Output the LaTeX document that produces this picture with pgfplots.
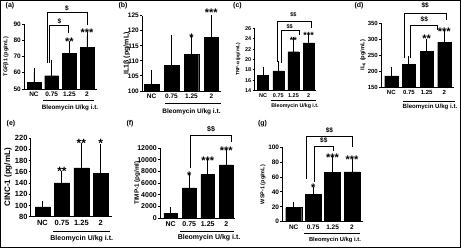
\documentclass[border=0pt]{standalone}
\usepackage{fontspec}
\setmainfont{Liberation Sans}
\usepackage{pgfplots}
\pgfplotsset{compat=1.18}
\newcommand\F[1]{\fontsize{#1}{#1}\selectfont\bfseries}
\pgfplotsset{
 prism/.style={
  scale only axis, clip mode=individual,
  axis x line*=bottom, axis y line*=left,
  axis line style={line width=0.9pt,-},
  xtick={0,1,2,3}, xticklabels={NC,0.75,1.25,2},
  xtick style={draw=none},
  ytick style={line width=0.9pt,black},
  tick align=outside, major tick length=2pt,
  /pgf/number format/assume math mode=true,
  /pgf/number format/1000 sep={},
  scaled y ticks=false,
  ybar,
  ylabel style={anchor=center},
  xlabel style={anchor=center},
  xticklabel style={inner sep=1pt},
  yticklabel style={inner sep=1pt},
 },
 bars/.style={fill=black, draw=black, line width=0.3pt,
   error bars/.cd, y dir=plus, y explicit,
   error bar style={line width=0.9pt,black},
   error mark options={line width=0.9pt,mark size=4pt,black}},
}
\tikzset{stars/.style={font=\F{11}, inner sep=0pt, yshift=-2.3pt},
 dol/.style={font=\F{6.5}, inner sep=0pt},
 br/.style={line width=0.9pt}}
\begin{document}
\begin{tikzpicture}
\useasboundingbox (0,0) rectangle (461pt,248pt);
\draw[line width=0.8pt] (0.6pt,0.6pt) rectangle (460.4pt,247.4pt);
\node[font=\F{7}] at (10pt,242pt) {(a)};
\node[font=\F{7}] at (123pt,242pt) {(b)};
\node[font=\F{7}] at (237.5pt,242pt) {(c)};
\node[font=\F{7}] at (359pt,242pt) {(d)};
\node[font=\F{7}] at (11pt,124pt) {(e)};
\node[font=\F{7}] at (130pt,124pt) {(f)};
\node[font=\F{7}] at (262.5pt,124pt) {(g)};

% (a)
\begin{axis}[prism, at={(24pt,159pt)}, anchor=south west, width=73pt, height=65pt,
 xmin=-0.566, xmax=3.566, ymin=50, ymax=90, ytick={50,60,70,80,90}, bar width=0.79,
 tick label style={font=\F{6.5}},
 ylabel={TGFβ1 (pg/mL)}, ylabel style={at={(axis description cs:-0.247,0.5)}, font=\F{5.5}},
 xlabel={Bleomycin U/kg i.t.}, xlabel style={at={(axis description cs:0.63,-0.285)}, font=\F{6.3}}]
\addplot[bars] coordinates {(0,54) +- (0,6.6) (1,58.2) +- (0,6.9) (2,72) +- (0,4.8) (3,75.5) +- (0,7.3)};
\draw[br] (rel axis cs:0.26,-0.169) -- (rel axis cs:0.959,-0.169);
\draw[br] (axis cs:0.9,66) -- (axis cs:0.9,88.8) -- (axis cs:1.97,88.8) -- (axis cs:1.97,84.5);
\node[dol] at (axis cs:1.435,91.8) {\$};
\draw[br] (axis cs:0.736,66) -- (axis cs:0.736,96.8) -- (axis cs:3,96.8) -- (axis cs:3,89.4);
\node[dol] at (axis cs:1.87,99.8) {\$};
\node[stars] at (axis cs:2,80.8) {**};
\node[stars] at (axis cs:3,86.3) {***};
\end{axis}

% (b)
\begin{axis}[prism, at={(142pt,157pt)}, anchor=south west, width=79.3pt, height=75.3pt,
 xmin=-0.48, xmax=3.5, ymin=100, ymax=125, ytick={100,105,110,115,120,125}, bar width=0.73,
 tick label style={font=\F{6.5}},
 ylabel={IL1β (pg/mL)}, ylabel style={at={(axis description cs:-0.19,0.5)}, font=\F{7}},
 xlabel={Bleomycin U/kg i.t.}, xlabel style={at={(axis description cs:0.624,-0.275)}, font=\F{6.5}}]
\addplot[bars] coordinates {(0,102.3) +- (0,3.3) (1,108.6) +- (0,8.6) (2,112.2) +- (0,4.9) (3,117.8) +- (0,6)};
\draw[br] (rel axis cs:0.29,-0.166) -- (rel axis cs:0.996,-0.166);
\node[stars] at (axis cs:2,118.6) {*};
\node[stars] at (axis cs:3,126.9) {***};
\end{axis}

% (c)
\begin{axis}[prism, at={(254.5pt,157.3pt)}, anchor=south west, width=61.7pt, height=62.4pt,
 xmin=-0.57, xmax=3.5, ymin=14, ymax=26, ytick={14,16,18,20,22,24,26}, bar width=0.725,
 tick label style={font=\F{5.5}},
 ylabel={TNF-α (pg/mL)}, ylabel style={at={(axis description cs:-0.267,0.5)}, font=\F{4.8}},
 xlabel={Bleomycin U/kg i.t.}, xlabel style={at={(axis description cs:0.656,-0.245)}, font=\F{5.3}}]
\addplot[bars] coordinates {(0,16.9) +- (0,0.9) (1,17.8) +- (0,1.1) (2,21.5) +- (0,2.0) (3,23.2) +- (0,0.9)};
\draw[br] (rel axis cs:0.267,-0.149) -- (rel axis cs:0.997,-0.149);
\draw[br] (axis cs:0.92,19.6) -- (axis cs:0.92,27.3) -- (axis cs:3.2,27.3) -- (axis cs:3.2,26.0);
\node[dol,font=\F{5.5}] at (axis cs:2.0,28.6) {\$\$};
\draw[br] (axis cs:1.19,19.3) -- (axis cs:1.19,25.5) -- (axis cs:2.4,25.5) -- (axis cs:2.4,24.7);
\node[dol,font=\F{5.5}] at (axis cs:1.75,26.4) {\$\$};
\node[stars,font=\F{9},yshift=0.4pt] at (axis cs:2,24.0) {**};
\node[stars,font=\F{9},yshift=0.4pt] at (axis cs:3,25.0) {***};
\end{axis}

% (d)
\begin{axis}[prism, at={(381pt,161pt)}, anchor=south west, width=73pt, height=63.7pt,
 xmin=-0.58, xmax=3.55, ymin=150, ymax=350, ytick={150,200,250,300,350}, bar width=0.74,
 tick label style={font=\F{6}},
 ylabel={IL\textsubscript{6} (pg/mL)}, ylabel style={at={(axis description cs:-0.247,0.5)}, font=\F{5.7}},
 xlabel={Bleomycin U/kg i.t.}, xlabel style={at={(axis description cs:0.671,-0.319)}, font=\F{6.1}}]
\addplot[bars] coordinates {(0,185) +- (0,15) (1,222) +- (0,13) (2,262) +- (0,26) (3,290) +- (0,27)};
\draw[br] (rel axis cs:0.30,-0.231) -- (rel axis cs:1.01,-0.231);
\draw[br] (axis cs:0.74,242) -- (axis cs:0.74,381.4) -- (axis cs:3.1,381.4) -- (axis cs:3.1,360.4);
\node[dol] at (axis cs:1.92,407.5) {\$\$};
\draw[br] (axis cs:1.11,242) -- (axis cs:1.11,344.7) -- (axis cs:2.63,344.7) -- (axis cs:2.63,329);
\node[dol] at (axis cs:1.87,362.6) {\$\$};
\node[stars] at (axis cs:2,310) {**};
\node[stars] at (axis cs:3,331) {***};
\end{axis}

% (e)
\begin{axis}[prism, at={(30.7pt,31.3pt)}, anchor=south west, width=81pt, height=78.7pt,
 xmin=-0.607, xmax=3.56, ymin=80, ymax=220, ytick={80,100,...,220}, bar width=0.77,
 tick label style={font=\F{7.5}},
 ylabel={CINC-1 (pg/mL)}, ylabel style={at={(axis description cs:-0.28,0.5)}, font=\F{8}},
 xlabel={Bleomycin U/kg i.t.}, xlabel style={at={(axis description cs:0.63,-0.283)}, font=\F{7}}]
\addplot[bars] coordinates {(0,97.5) +- (0,2.5) (1,140) +- (0,14) (2,167) +- (0,37) (3,157) +- (0,46)};
\draw[br] (rel axis cs:0.279,-0.186) -- (rel axis cs:0.979,-0.186);
\node[stars,font=\F{12}] at (axis cs:1,165) {**};
\node[stars,font=\F{12}] at (axis cs:2,214.7) {**};
\node[stars,font=\F{12}] at (axis cs:3,214.7) {*};
\end{axis}

% (f)
\begin{axis}[prism, at={(160pt,29.7pt)}, anchor=south west, width=75.5pt, height=70.3pt,
 xmin=-0.58, xmax=3.5, ymin=0, ymax=12000, ytick={0,2000,...,12000}, bar width=0.73,
 tick label style={font=\F{7}},
 ylabel={TIMP-1 (pg/ml)}, ylabel style={at={(axis description cs:-0.3,0.5)}, font=\F{6.3}},
 xlabel={Bleomycin U/kg i.t.}, xlabel style={at={(axis description cs:0.65,-0.28)}, font=\F{7}}]
\addplot[bars] coordinates {(0,900) +- (0,300) (1,5200) +- (0,1900) (2,7500) +- (0,2000) (3,9100) +- (0,2000)};
\draw[br] (rel axis cs:0.265,-0.185) -- (rel axis cs:0.98,-0.185);
\draw[br] (axis cs:1.05,8650) -- (axis cs:1.05,14100) -- (axis cs:3.3,14100) -- (axis cs:3.3,12970);
\node[dol,font=\F{7}] at (axis cs:2.18,15240) {\$\$};
\node[stars] at (axis cs:1,7682) {*};
\node[stars] at (axis cs:2,10242) {***};
\node[stars] at (axis cs:3,12000) {***};
\end{axis}

% (g)
\begin{axis}[prism, at={(282.3pt,26.3pt)}, anchor=south west, width=81pt, height=74.4pt,
 xmin=-0.587, xmax=3.58, ymin=0, ymax=100, ytick={0,20,...,100}, bar width=0.82,
 tick label style={font=\F{6.5}},
 ylabel={WSP-1 (pg/mL)}, ylabel style={at={(axis description cs:-0.238,0.5)}, font=\F{5.5}},
 xlabel={Bleomycin U/kg i.t.}, xlabel style={at={(axis description cs:0.65,-0.246)}, font=\F{5.8}}]
\addplot[bars] coordinates {(0,19) +- (0,1.5) (1,37) +- (0,4) (2,66) +- (0,17) (3,67) +- (0,11.5)};
\draw[br] (rel axis cs:0.272,-0.152) -- (rel axis cs:0.959,-0.152);
\draw[br] (axis cs:1.06,53.4) -- (axis cs:1.06,100.8) -- (axis cs:2.04,100.8) -- (axis cs:2.04,95.4);
\node[dol] at (axis cs:1.55,109.8) {\$\$};
\draw[br] (axis cs:0.67,57.4) -- (axis cs:0.67,114.2) -- (axis cs:3.0,114.2) -- (axis cs:3.0,100);
\node[dol] at (axis cs:1.84,123.3) {\$\$};
\node[stars] at (axis cs:1,48.4) {*};
\node[stars] at (axis cs:2,88.7) {***};
\node[stars] at (axis cs:3,86.6) {***};
\end{axis}
\end{tikzpicture}
\end{document}
